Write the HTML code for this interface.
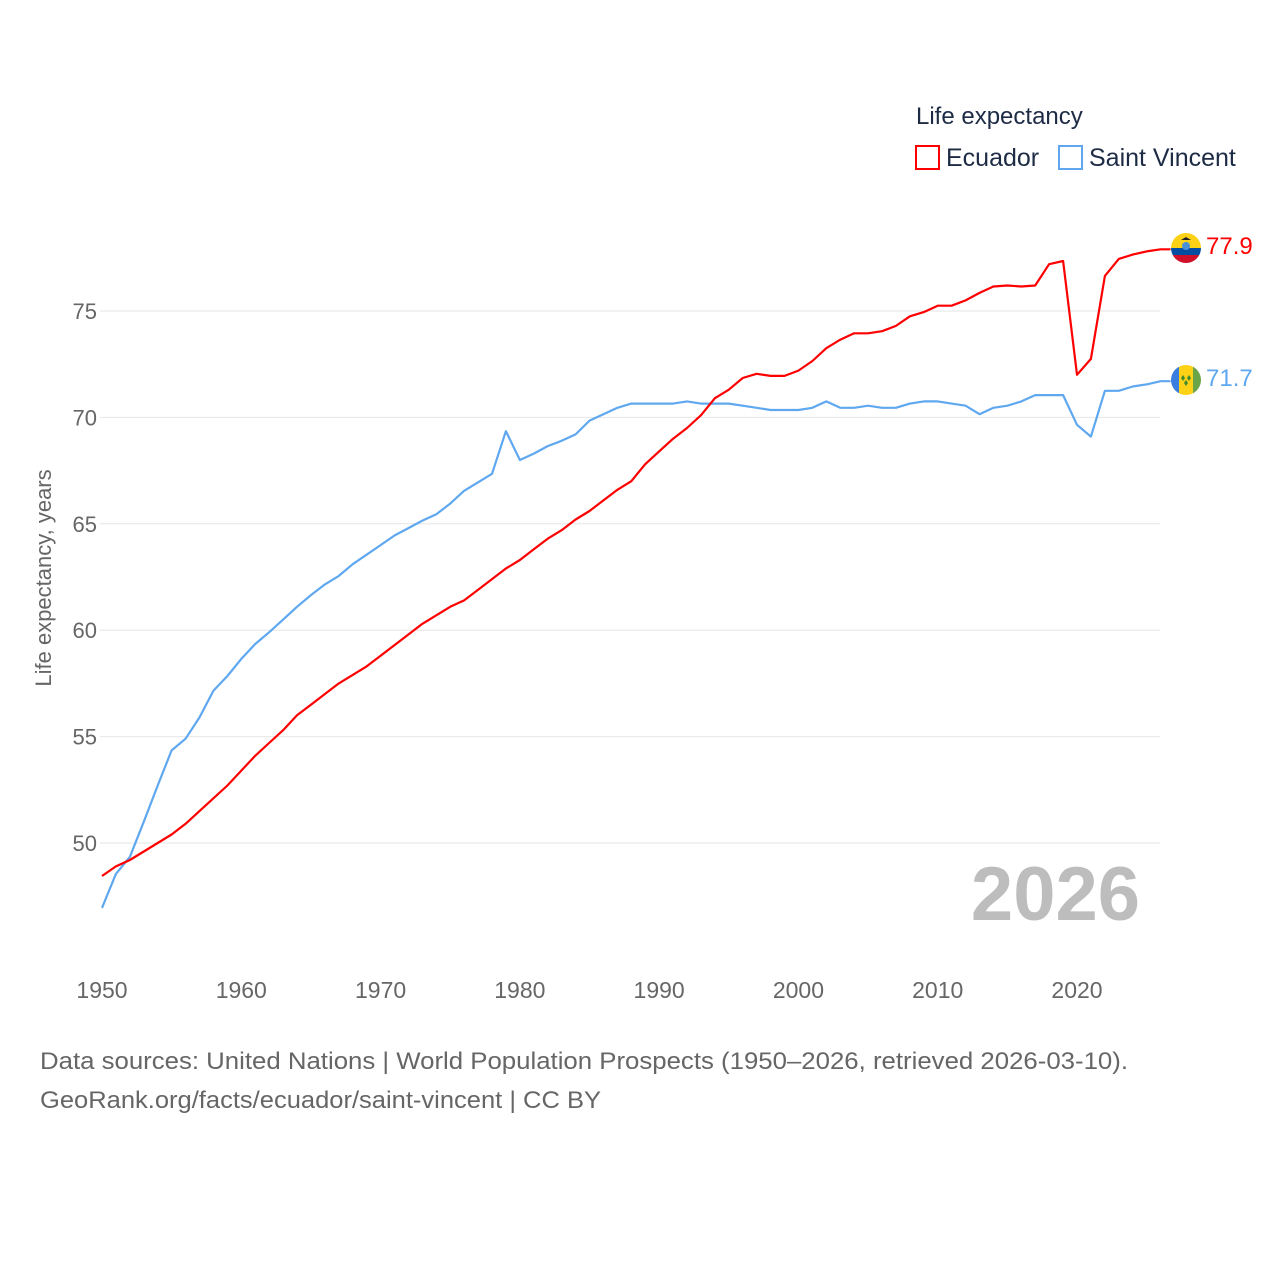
<!DOCTYPE html>
<html><head><meta charset="utf-8"><style>
body{margin:0;background:#fff;font-family:"Liberation Sans",sans-serif}
</style></head><body>
<svg width="1280" height="1280" xmlns="http://www.w3.org/2000/svg" style="font-family:'Liberation Sans',sans-serif">
<g id="grid"></g>
<g id="yt"></g>
<g id="xt"></g>
<text transform="translate(51,578) rotate(-90)" text-anchor="middle" font-size="22" fill="#666">Life expectancy, years</text>
<text x="1140" y="920" text-anchor="end" font-size="76" font-weight="bold" fill="#bdbdbd">2026</text>
<g id="series"></g>
<g>
<text x="916" y="124" font-size="24" fill="#1d2b45">Life expectancy</text>
<g><rect x="916" y="146" width="23" height="23" fill="none" stroke="#ff0000" stroke-width="2"/><text x="946" y="166" font-size="25" fill="#1d2b45">Ecuador</text></g>
<g><rect x="1059" y="146" width="23" height="23" fill="none" stroke="#5fa8f0" stroke-width="2"/><text x="1089" y="166" font-size="25" fill="#1d2b45">Saint Vincent</text></g>
</g>
<g>
<clipPath id="c1"><circle cx="1186" cy="248" r="15"/></clipPath>
<g clip-path="url(#c1)"><rect x="1171" y="233" width="30" height="15" fill="#fcd116"/><rect x="1171" y="248" width="30" height="7" fill="#034ea2"/><rect x="1171" y="255" width="30" height="8" fill="#d0102a"/></g>
<circle cx="1186" cy="246" r="4" fill="#4a90d9"/><path d="M1181 240 L1186 237 L1191 240 Z" fill="#222"/>
</g>
<g>
<clipPath id="c2"><circle cx="1186" cy="380" r="15"/></clipPath>
<g clip-path="url(#c2)"><rect x="1171" y="365" width="8" height="30" fill="#3a7fe0"/><rect x="1179" y="365" width="14" height="30" fill="#fcd116"/><rect x="1193" y="365" width="8" height="30" fill="#6aa54a"/></g>
<path d="M1183 375 l2 3 -2 3 -2 -3Z M1189 375 l2 3 -2 3 -2 -3Z M1186 380 l2 3 -2 3 -2 -3Z" fill="#3d8a2f"/>
</g>
<text x="1206" y="254" font-size="24" fill="#ff0000">77.9</text>
<text x="1206" y="386" font-size="24" fill="#5fa8f0">71.7</text>
<text x="40" y="1069" font-size="24" fill="#666" textLength="1088" lengthAdjust="spacingAndGlyphs">Data sources: United Nations | World Population Prospects (1950–2026, retrieved 2026-03-10).</text>
<text x="40" y="1108" font-size="24" fill="#666" textLength="561" lengthAdjust="spacingAndGlyphs">GeoRank.org/facts/ecuador/saint-vincent | CC BY</text>
</svg>
<script>
const startYear = 1950;
const yTicks = [50,55,60,65,70,75];
const xTicks = [1950,1960,1970,1980,1990,2000,2010,2020];
const ecuador = [48.45,48.9,49.2,49.6,50.0,50.4,50.9,51.5,52.1,52.7,53.4,54.1,54.7,55.3,56.0,56.5,57.0,57.5,57.9,58.3,58.8,59.3,59.8,60.3,60.7,61.1,61.4,61.9,62.4,62.9,63.3,63.8,64.3,64.7,65.2,65.6,66.1,66.6,67.0,67.8,68.4,69.0,69.5,70.1,70.9,71.3,71.85,72.05,71.95,71.95,72.2,72.65,73.25,73.65,73.95,73.95,74.05,74.3,74.75,74.95,75.25,75.25,75.5,75.85,76.15,76.2,76.15,76.2,77.2,77.35,72.0,72.75,76.65,77.45,77.65,77.8,77.9];
const saintVincent = [46.95,48.55,49.35,51.0,52.7,54.35,54.9,55.9,57.15,57.85,58.65,59.35,59.9,60.5,61.1,61.65,62.15,62.55,63.1,63.55,64.0,64.45,64.8,65.15,65.45,65.95,66.55,66.95,67.35,69.35,68.0,68.3,68.65,68.9,69.2,69.85,70.15,70.45,70.65,70.65,70.65,70.65,70.75,70.65,70.65,70.65,70.55,70.45,70.35,70.35,70.35,70.45,70.75,70.45,70.45,70.55,70.45,70.45,70.65,70.75,70.75,70.65,70.55,70.15,70.45,70.55,70.75,71.05,71.05,71.05,69.65,69.1,71.25,71.25,71.45,71.55,71.7];
const NS='http://www.w3.org/2000/svg';
const xs=yr=>102+(yr-1950)*(975/70);
const ys=v=>311+(75-v)*(532/25);
function mk(tag,attrs,parent){const e=document.createElementNS(NS,tag);for(const k in attrs)e.setAttribute(k,attrs[k]);parent.appendChild(e);return e;}
const grid=document.getElementById('grid'),yt=document.getElementById('yt'),xt=document.getElementById('xt'),ser=document.getElementById('series');
yTicks.forEach(v=>{
  const l=mk('line',{x1:100,x2:1160,y1:ys(v),y2:ys(v),stroke:'#e6e6e6','stroke-width':1},grid);
  
  
  const t=mk('text',{x:97,y:ys(v)+8,'text-anchor':'end','font-size':22,fill:'#666'},yt);
  
  
  t.textContent=v;
});
xTicks.forEach(yr=>{
  const t=mk('text',{x:xs(yr),y:998,'text-anchor':'middle','font-size':23,fill:'#666'},xt);
  
  
  t.textContent=yr;
});
function line(data,color,name){
  const d=data.map((v,i)=>(i?'L':'M')+xs(startYear+i).toFixed(1)+' '+ys(v).toFixed(1)).join(' ');
  const last=data.length-1;
  const p=mk('path',{d:d+' L'+(xs(startYear+last)+10)+' '+ys(data[last]).toFixed(1),fill:'none',stroke:color,'stroke-width':2.2,'stroke-linejoin':'round'},ser);
  
  
}
line(saintVincent,'#5fa8f0','saint-vincent-line');
line(ecuador,'#ff0000','ecuador-line');
</script>
</body></html>
